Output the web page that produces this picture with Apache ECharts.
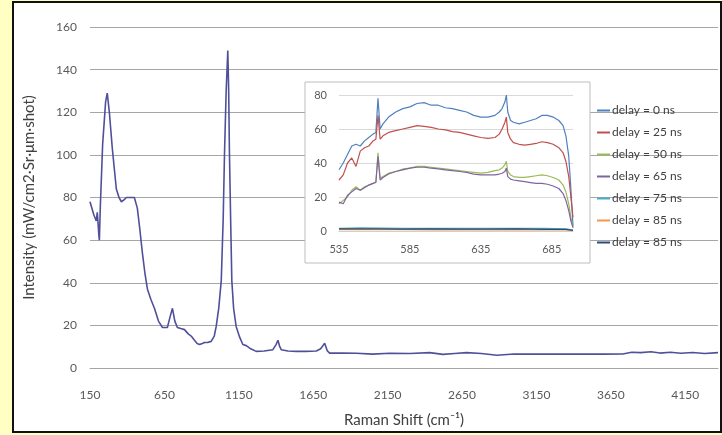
<!DOCTYPE html>
<html>
<head>
<meta charset="utf-8">
<script src="https://cdn.jsdelivr.net/npm/echarts@6/dist/echarts.min.js"></script>
<style>
  html, body { margin: 0; padding: 0; background: #ffffc4; }
  #chart { width: 722px; height: 435px; }
</style>
</head>
<body>
<div id="chart"></div>
<script>
// main spectrum: Raman shift (cm-1) vs intensity
const shiftX = [150, 175, 192, 199, 210, 213, 219, 235, 255, 266, 280, 300, 314, 327, 345, 361, 380, 394, 420, 448, 468, 485, 502, 520, 536, 560, 583, 610, 637, 655, 670, 688, 704, 720, 737, 760, 785, 810, 830, 852, 870, 886, 905, 919, 940, 964, 985, 998, 1015, 1032, 1045, 1054, 1065, 1076, 1082, 1087, 1095, 1103, 1115, 1132, 1155, 1177, 1200, 1230, 1267, 1320, 1379, 1400, 1413, 1425, 1435, 1480, 1536, 1600, 1671, 1700, 1727, 1745, 1760, 1850, 1940, 2050, 2164, 2300, 2433, 2521, 2600, 2680, 2780, 2884, 3000, 3200, 3400, 3600, 3730, 3790, 3850, 3920, 3980, 4050, 4120, 4200, 4280, 4370];
const intensity = [78, 72, 69, 73, 62, 60, 75, 105, 125, 129, 120, 103, 93, 84, 80, 78, 79, 80, 80, 80, 75, 65, 54, 44, 37, 32, 28, 22, 19, 19, 19, 24, 28, 22, 19, 18.5, 18, 16, 15, 13, 11.5, 11, 11.5, 12, 12, 12.5, 15, 19.5, 28, 41, 70, 101, 130, 149, 130, 101, 70, 41, 28, 19.5, 14.6, 11, 10.5, 9, 7.8, 8, 8.6, 11, 13, 10, 8.6, 8, 7.8, 7.8, 8, 9, 11.6, 8, 7, 7, 6.9, 6.5, 6.9, 6.8, 7.2, 6.4, 6.8, 7.2, 6.8, 6.0, 6.6, 6.5, 6.6, 6.5, 6.6, 7.4, 7.2, 7.6, 7.0, 7.4, 6.9, 7.3, 6.8, 7.2];
const mainYTicks = { min: 0, max: 160, step: 20 };
const mainXTicks = { min: 150, max: 4370, step: 500 };

// inset: wavelength window, one curve per delay
const insetX = [535, 538, 541, 544, 547, 550, 553, 556, 559, 561, 562.5, 564, 566, 570, 575, 580, 585, 590, 595, 600, 605, 610, 615, 620, 625, 630, 635, 640, 645, 648, 650, 652, 653, 654, 656, 658, 662, 666, 670, 674, 678, 682, 686, 690, 693, 695, 697, 698.5, 700];
const delay0 = [36, 40, 45, 50, 51, 50, 53, 55, 57, 58, 78, 60, 63, 67, 70, 72, 73, 75, 75.5, 74, 74, 72.5, 72, 71, 70, 68, 67, 67, 68, 70, 72, 76, 80, 70, 65, 64, 63, 64, 65, 66, 68, 68, 67, 65, 62, 56, 44, 25, 3];
const delay25 = [30, 33, 40, 43, 38, 47, 49, 50, 53, 54, 68, 54, 56, 58, 59, 60, 61, 62, 61.5, 61, 60, 59.5, 58.5, 58, 57, 56, 55, 54.5, 55, 57, 60, 64, 67, 58, 54, 52, 51, 50.5, 51, 51.5, 52.5, 52, 51, 49, 46, 41, 32, 20, 8];
const delay50 = [16, 18, 20, 24, 26, 24, 26, 27, 28, 29, 46, 31, 32, 34, 35, 36.5, 37, 38, 38, 37.5, 37, 36.5, 36, 35.5, 35, 34.5, 34, 34.5, 35.5, 36, 37, 39, 41, 35, 33, 32, 31.5, 31.5, 32, 32.5, 33, 32.5, 31.5, 30, 27, 23, 16, 8, 2];
const delay65 = [17, 16, 21, 23, 25, 24, 25.5, 27, 28, 28.5, 44, 30, 31.5, 33.5, 35, 36, 37, 37.5, 37.5, 37, 36.5, 36, 35.5, 35, 34.5, 33.5, 33, 33, 33, 33.5, 34, 35, 37, 32, 30.5, 30, 29.5, 29, 28.5, 28, 28, 27.5, 26.5, 25, 22, 18, 12, 6, 2];
const lowX = [535, 550, 565, 580, 600, 620, 640, 660, 680, 695, 700];
const delay75 = [1.6, 1.8, 1.7, 1.6, 1.6, 1.5, 1.5, 1.6, 1.5, 1.3, 0.5];
const delay85a = [0.8, 0.9, 0.8, 0.8, 0.7, 0.8, 0.7, 0.8, 0.7, 0.6, 0.3];
const delay85b = [1.2, 1.3, 1.2, 1.1, 1.2, 1.1, 1.1, 1.2, 1.0, 0.9, 0.4];
const insetNames = ["delay = 0 ns", "delay = 25 ns", "delay = 50 ns", "delay = 65 ns", "delay = 75 ns", "delay = 85 ns", "delay = 85 ns "];
const insetColors = ["#4F81BD", "#C0504D", "#9BBB59", "#8064A2", "#4BACC6", "#F79646", "#2C4D75"];

const pair = (xs, ys) => xs.map((x, i) => [x, ys[i]]);
const insetData = [
  pair(insetX, delay0),
  pair(insetX, delay25),
  pair(insetX, delay50),
  pair(insetX, delay65),
  pair(lowX, delay75),
  pair(lowX, delay85a),
  pair(lowX, delay85b),
];

const FONT = "Lato";
const plain = (v) => String(v); // no thousands separators, like the original
const myChart = echarts.init(document.getElementById("chart"), null, { renderer: "canvas" });

const option = {
  backgroundColor: "#ffffc4",
  animation: false,
  textStyle: { fontFamily: FONT },
  graphic: [
    {
      type: "rect",
      z: -10,
      silent: true,
      shape: { x: 13, y: 2, width: 708, height: 430 },
      style: { fill: "#ffffff", stroke: "#111111", lineWidth: 2 },
    },
    {
      // inset box sits over the main gridlines
      type: "rect",
      z: 3,
      silent: true,
      shape: { x: 305, y: 82, width: 285, height: 181 },
      style: { fill: "#ffffff", stroke: "#bdbdbd", lineWidth: 1 },
    },
  ],
  legend: {
    data: insetNames,
    orient: "vertical",
    left: 592,
    top: 99,
    itemWidth: 13,
    itemHeight: 2,
    itemGap: 9,
    icon: "rect",
    z: 6,
    textStyle: { fontFamily: FONT, fontSize: 12, color: "#404040", lineHeight: 13, padding: [0, 0, 0, -3] },
  },
  grid: [
    { left: 90, right: 4, top: 27, bottom: 67 },
    { left: 339, top: 95, width: 234, height: 136 },
  ],
  xAxis: [
    {
      type: "value",
      gridIndex: 0,
      z: 1,
      min: mainXTicks.min,
      max: mainXTicks.max,
      interval: mainXTicks.step,
      name: "Raman Shift (cm\u207B\u00B9)",
      nameLocation: "middle",
      nameGap: 45,
      nameTextStyle: { fontFamily: FONT, fontSize: 15, color: "#404040" },
      axisLine: { show: true, lineStyle: { color: "#a6a6a6" } },
      axisTick: { show: false },
      splitLine: { show: false },
      axisLabel: { margin: 21, fontSize: 12, color: "#595959", showMaxLabel: false, formatter: plain },
    },
    {
      type: "value",
      gridIndex: 1,
      z: 4,
      min: 535,
      max: 700,
      interval: 50,
      axisLine: { show: true, lineStyle: { color: "#d0d0d0" } },
      axisTick: { show: false },
      splitLine: { show: false },
      axisLabel: { margin: 13, fontSize: 11, color: "#595959", showMaxLabel: false, formatter: plain },
    },
  ],
  yAxis: [
    {
      type: "value",
      gridIndex: 0,
      z: 1,
      min: mainYTicks.min,
      max: mainYTicks.max,
      interval: mainYTicks.step,
      name: "Intensity (mW/cm2\u00B7Sr\u00B7\u03BCm\u00B7shot)",
      nameLocation: "middle",
      nameGap: 53,
      nameTextStyle: { fontFamily: FONT, fontSize: 15, color: "#404040" },
      axisLine: { show: false },
      axisTick: { show: false },
      splitLine: { lineStyle: { color: "#a6a6a6", width: 1 } },
      axisLabel: { margin: 13, fontSize: 12, color: "#595959" },
    },
    {
      type: "value",
      gridIndex: 1,
      z: 4,
      min: 0,
      max: 80,
      interval: 20,
      axisLine: { show: false },
      axisTick: { show: false },
      splitLine: { lineStyle: { color: "#d9d9d9", width: 1 } },
      axisLabel: { margin: 12, fontSize: 11, color: "#595959" },
    },
  ],
  series: [
    {
      name: "spectrum",
      type: "line",
      xAxisIndex: 0,
      yAxisIndex: 0,
      z: 2,
      data: pair(shiftX, intensity),
      showSymbol: false,
      lineStyle: { color: "#50509a", width: 1.6 },
      itemStyle: { color: "#50509a" },
    },
  ].concat(
    insetNames.map((name, i) => ({
      name: name,
      type: "line",
      xAxisIndex: 1,
      yAxisIndex: 1,
      z: 5,
      data: insetData[i],
      showSymbol: false,
      lineStyle: { color: insetColors[i], width: 1.2 },
      itemStyle: { color: insetColors[i] },
    }))
  ),
};

myChart.setOption(option);
</script>
</body>
</html>
